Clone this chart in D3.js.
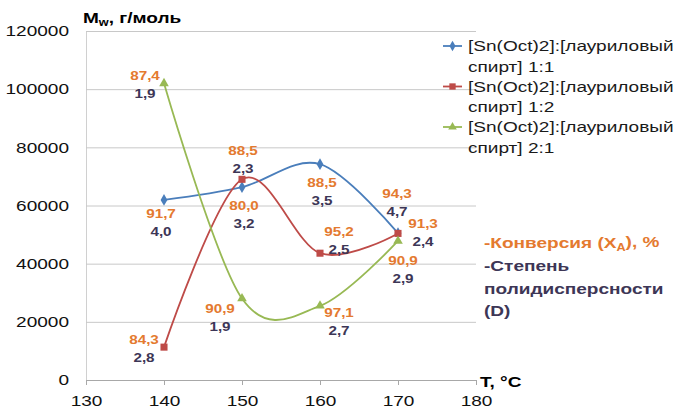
<!DOCTYPE html>
<html><head><meta charset="utf-8">
<script src="https://cdn.jsdelivr.net/npm/d3@7"></script>
<style>
html,body{margin:0;padding:0;background:#fff;}
text{font-family:"Liberation Sans",Arial,sans-serif;}
</style></head>
<body><svg id="chart" width="674" height="411"></svg>
<script>
// ---- data ----
const temperatures = [140, 150, 160, 170];
const seriesNames = ["[Sn(Oct)2]:[лауриловый спирт] 1:1", "[Sn(Oct)2]:[лауриловый спирт] 1:2", "[Sn(Oct)2]:[лауриловый спирт] 2:1"];
const mw11 = [61900, 66300, 74200, 50500];
const mw12 = [11300, 69000, 43600, 50400];
const mw21 = [102000, 28000, 25500, 47800];
const conv11 = ["91,7", "80,0", "88,5", "94,3"];
const disp11 = ["4,0", "3,2", "3,5", "4,7"];
const conv12 = ["84,3", "88,5", "95,2", "91,3"];
const disp12 = ["2,8", "2,3", "2,5", "2,4"];
const conv21 = ["87,4", "90,9", "97,1", "90,9"];
const disp21 = ["1,9", "1,9", "2,7", "2,9"];
const xTicks = [130, 140, 150, 160, 170, 180];
const yTicks = [0, 20000, 40000, 60000, 80000, 100000, 120000];

// ---- layout / style ----
const colors = ["#4A7EBB", "#BE4B48", "#98B954"];
const convColor = "#E47A30", dispColor = "#3D3656";
const SX = 1.27; // horizontal text stretch
// label offsets (px) relative to point for each series
const labelOffsets = [
  [[-3, 14], [2, 19], [2, 19], [-1, -39]],
  [[-20, -7], [1, -29], [19, -21], [25, -10]],
  [[-19, -8], [-22, 10], [19, 7], [5, 20]]
];

const svg = d3.select("#chart");
const x = d3.scaleLinear().domain([130, 180]).range([86, 476]);
const y = d3.scaleLinear().domain([0, 120000]).range([380, 31]);

function txt(xp, yp, str, o) {
  o = o || {};
  const t = svg.append("text")
    .attr("transform", `translate(${xp},${yp}) scale(${SX},1)`)
    .attr("dy", "0.35em")
    .attr("text-anchor", o.anchor || "middle")
    .attr("font-size", o.size || 12)
    .attr("font-weight", o.weight || "bold")
    .attr("fill", o.fill || "#000");
  if (str !== null) t.text(str);
  return t;
}

// gridlines + y axis
const yAxis = d3.axisLeft(y).tickValues(yTicks).tickSizeInner(-(x(180) - x(130))).tickSizeOuter(0).tickPadding(13.4).tickFormat(d3.format("d"));
const gy = svg.append("g").attr("transform", `translate(${x(130)},0)`).call(yAxis);
gy.select(".domain").attr("stroke", "#D0D0D0");
gy.selectAll(".tick line").attr("stroke", "#C8C8C8");
gy.selectAll(".tick text").attr("font-size", 15).attr("fill", "#111")
  .attr("font-family", "'Liberation Sans',Arial,sans-serif")
  .attr("transform", `scale(${SX},1)`);

// x axis
const xAxis = d3.axisBottom(x).tickValues(xTicks).tickSizeInner(5).tickSizeOuter(5).tickPadding(10.7).tickFormat(d3.format("d"));
const gx = svg.append("g").attr("transform", `translate(0,${y(0)})`).call(xAxis);
gx.select(".domain").attr("stroke", "#A8A8A8");
gx.selectAll(".tick line").attr("stroke", "#A8A8A8");
gx.selectAll(".tick text").attr("font-size", 15).attr("fill", "#111")
  .attr("font-family", "'Liberation Sans',Arial,sans-serif")
  .attr("transform", `scale(${SX},1)`);

// series
const allMw = [mw11, mw12, mw21];
const allConv = [conv11, conv12, conv21];
const allDisp = [disp11, disp12, disp21];
const line = d3.line().x((d, i) => x(temperatures[i])).y(d => y(d)).curve(d3.curveCardinal.tension(0));
const sym = [d3.symbolDiamond, d3.symbolSquare, d3.symbolTriangle];
const symSize = [40, 50, 40];

allMw.forEach((vals, s) => {
  svg.append("path").datum(vals).attr("d", line).attr("fill", "none")
    .attr("stroke", colors[s]).attr("stroke-width", 1.8);
});
allMw.forEach((vals, s) => {
  svg.selectAll(null).data(vals).enter().append("path")
    .attr("d", d3.symbol().type(sym[s]).size(symSize[s]))
    .attr("transform", (d, i) => `translate(${x(temperatures[i])},${y(d)})`)
    .attr("fill", colors[s]);
});
// data labels
allMw.forEach((vals, s) => {
  vals.forEach((v, i) => {
    const px = x(temperatures[i]) + labelOffsets[s][i][0];
    const py = y(v) + labelOffsets[s][i][1];
    txt(px, py, allConv[s][i], {fill: convColor, size: 12});
    txt(px, py + 18, allDisp[s][i], {fill: dispColor, size: 12});
  });
});

// axis titles
const mt = txt(83, 18, null, {anchor: "start", size: 15});
mt.append("tspan").text("M");
mt.append("tspan").attr("font-size", 10).attr("dy", "0.3em").text("w");
mt.append("tspan").attr("dy", "-0.2em").text(", г/моль");
txt(480, 382, "T, °C", {anchor: "start", size: 15});

// legend
seriesNames.forEach((name, s) => {
  const ly = 46 + s * 40.5;
  svg.append("line").attr("x1", 443).attr("x2", 462).attr("y1", ly).attr("y2", ly)
    .attr("stroke", colors[s]).attr("stroke-width", 1.8);
  svg.append("path").attr("d", d3.symbol().type(sym[s]).size(symSize[s] * 0.8)())
    .attr("transform", `translate(452.5,${ly})`).attr("fill", colors[s]);
  txt(468, ly, "[Sn(Oct)2]:[лауриловый", {anchor: "start", size: 15, weight: "normal", fill: "#1a1a1a"});
  txt(468, ly + 20.3, name.replace("[Sn(Oct)2]:[лауриловый ", ""), {anchor: "start", size: 15, weight: "normal", fill: "#1a1a1a"});
});

// annotation legend for labels
const ct = txt(484, 243, null, {anchor: "start", size: 15, fill: convColor});
ct.append("tspan").text("-Конверсия (X");
ct.append("tspan").attr("font-size", 10).attr("dy", "0.3em").text("A");
ct.append("tspan").attr("dy", "-0.3em").text("), %");
txt(484, 266, "-Степень", {anchor: "start", size: 15, fill: dispColor});
txt(484, 289, "полидисперсности", {anchor: "start", size: 15, fill: dispColor});
txt(484, 311, "(D)", {anchor: "start", size: 15, fill: dispColor});
</script></body></html>
